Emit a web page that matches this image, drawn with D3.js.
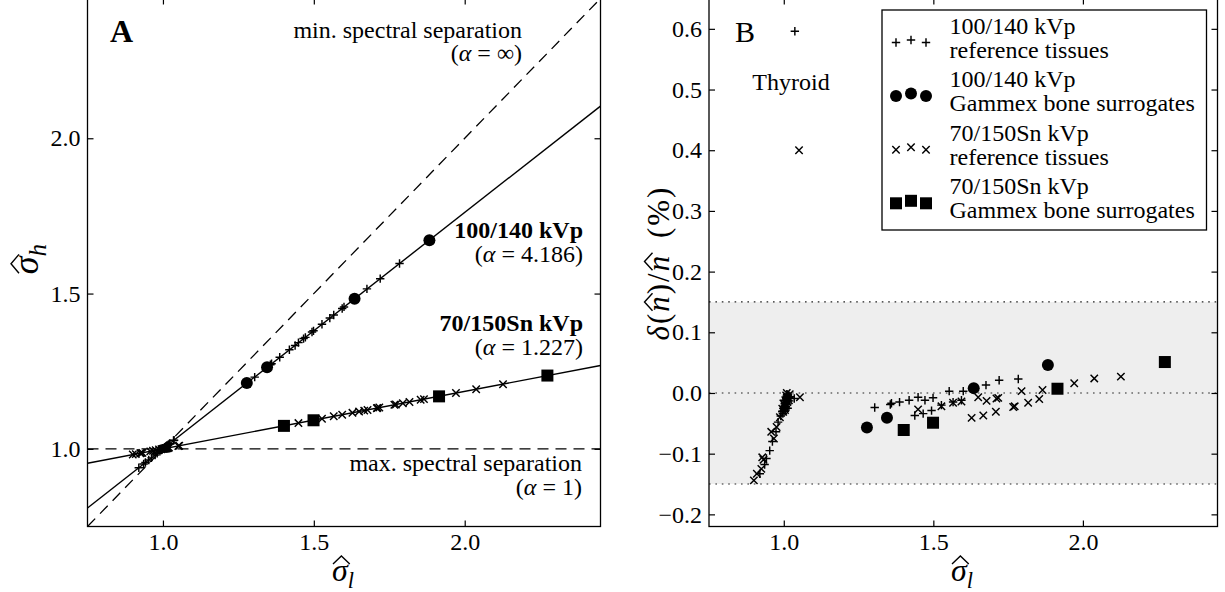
<!DOCTYPE html>
<html>
<head>
<meta charset="utf-8">
<script src="https://cdn.jsdelivr.net/npm/d3@7"></script>
<style>
  body { margin: 0; background: #fff; }
  svg { display: block; font-family: "Liberation Serif", serif; }
</style>
</head>
<body>
<div id="chart"></div>
<script>
// ---- data -------------------------------------------------------------
var xTicks = [1.0, 1.5, 2.0];
var yTicksA = [1.0, 1.5, 2.0];
var yTicksB = [-0.2, -0.1, 0.0, 0.1, 0.2, 0.3, 0.4, 0.5, 0.6];

var protocols = ["100/140 kVp", "70/150Sn kVp"];
var alphas = [4.186, 1.227];
var groupNames = ["reference tissues", "Gammex bone surrogates"];
var toleranceBand = [-0.15, 0.15];

// 100/140 kVp, reference tissues
var tissueSigL100 = [0.920, 0.936, 0.942, 0.953, 0.962, 0.974, 0.981, 0.990, 0.995, 1.000,
    1.003, 1.005, 1.008, 1.010, 1.012, 1.006, 1.015, 1.018, 1.022, 1.035,
    1.037, 1.304, 1.356, 1.360, 1.387, 1.419, 1.449, 1.472, 1.499, 1.438,
    1.466, 1.494, 1.527, 1.553, 1.566, 1.594, 1.600, 1.676, 1.720, 1.784,
    1.000, 1.004, 1.007, 1.011, 0.997, 1.013];
var tissueSigH100 = [0.939, 0.951, 0.956, 0.964, 0.971, 0.980, 0.986, 0.992, 0.996, 1.000,
    1.002, 1.004, 1.006, 1.008, 1.009, 1.005, 1.011, 1.014, 1.017, 1.027,
    1.028, 1.231, 1.271, 1.274, 1.295, 1.319, 1.342, 1.359, 1.380, 1.333,
    1.355, 1.376, 1.401, 1.421, 1.431, 1.452, 1.457, 1.515, 1.548, 1.597,
    1.000, 1.003, 1.005, 1.008, 0.998, 1.010];
var tissueDelta100 = [-0.133, -0.118, -0.108, -0.095, -0.080, -0.064, -0.048, -0.038, -0.030, -0.025,
    -0.020, -0.015, -0.010, -0.005, -0.018, -0.028, -0.008, -0.013, -0.006, -0.009,
    0.596, -0.024, -0.019, -0.017, -0.015, -0.012, -0.007, -0.012, -0.008, -0.037,
    -0.034, -0.029, -0.020, 0.003, -0.015, -0.012, 0.003, 0.013, 0.021, 0.023,
    -0.012, -0.030, -0.022, -0.002, -0.034, -0.025];

// 100/140 kVp, Gammex bone surrogates
var boneSigL100 = [1.278, 1.345, 1.635, 1.883];
var boneSigH100 = [1.212, 1.263, 1.483, 1.672];
var boneDelta100 = [-0.057, -0.041, 0.008, 0.046];

// 70/150Sn kVp, reference tissues
var tissueSigL70 = [0.900, 0.910, 0.925, 0.928, 0.932, 0.958, 0.967, 0.976, 0.987, 0.998,
    1.002, 1.005, 1.008, 1.010, 1.012, 1.015, 1.020, 1.054, 1.051, 1.449,
    1.527, 1.566, 1.594, 1.628, 1.650, 1.667, 1.678, 1.709, 1.711, 1.717,
    1.767, 1.772, 1.795, 1.817, 1.854, 1.865, 1.971, 2.038, 2.127,
    1.000, 1.004, 1.009, 1.013, 0.995, 1.017];
var tissueSigH70 = [0.982, 0.983, 0.986, 0.987, 0.987, 0.992, 0.994, 0.996, 0.998, 1.000,
    1.000, 1.001, 1.001, 1.002, 1.002, 1.003, 1.004, 1.010, 1.009, 1.083,
    1.097, 1.105, 1.110, 1.116, 1.120, 1.123, 1.125, 1.131, 1.132, 1.133,
    1.142, 1.143, 1.147, 1.151, 1.158, 1.160, 1.180, 1.192, 1.208,
    1.000, 1.001, 1.002, 1.002, 0.999, 1.003];
var tissueDelta70 = [-0.144, -0.133, -0.125, -0.106, -0.110, -0.064, -0.075, -0.056, -0.040, -0.031,
    -0.022, -0.012, -0.004, 0.000, -0.015, -0.008, -0.002, -0.007, 0.400, -0.027,
    -0.022, -0.016, -0.014, -0.041, -0.007, -0.037, -0.013, -0.031, -0.009, -0.008,
    -0.023, -0.022, 0.003, -0.016, -0.010, 0.005, 0.016, 0.024, 0.027,
    -0.018, -0.028, -0.020, -0.006, -0.026, -0.012];

// 70/150Sn kVp, Gammex bone surrogates
var boneSigL70 = [1.401, 1.499, 1.915, 2.274];
var boneSigH70 = [1.074, 1.092, 1.169, 1.236];
var boneDelta70 = [-0.061, -0.049, 0.007, 0.051];

// ---- layout -----------------------------------------------------------
var width = 1225, height = 592;
var boxTop = -1.5, boxBottom = 526.5;
var tickLen = 6;
var font = 24;
var serif = '"Liberation Serif", serif';

var svg = d3.select("#chart").append("svg")
    .attr("width", width)
    .attr("height", height);

svg.append("rect").attr("width", width).attr("height", height).attr("fill", "#fff");

var xA = d3.scaleLinear().domain([0.75, 2.45]).range([87.5, 600.5]);
var yA = d3.scaleLinear().domain([0.75, 2.45]).range([boxBottom, boxTop]);
var xB = d3.scaleLinear().domain([0.75, 2.45]).range([709, 1217.5]);
var yB = d3.scaleLinear().domain([-0.22, 0.65]).range([boxBottom, boxTop]);

function zip(a, b) {
    return a.map(function(v, i) { return [v, b[i]]; });
}

var plusPath = function(r) { return "M" + (-r) + ",0H" + r + "M0," + (-r) + "V" + r; };
var crossPath = function(r) { return "M" + (-r) + "," + (-r) + "L" + r + "," + r + "M" + (-r) + "," + r + "L" + r + "," + (-r); };

function drawMarkers(g, pts, x, y, kind) {
    var sel = g.append("g").selectAll("." + kind).data(pts).enter();
    if (kind === "plus" || kind === "cross") {
        sel.append("path")
            .attr("class", kind)
            .attr("transform", function(d) { return "translate(" + x(d[0]) + "," + y(d[1]) + ")"; })
            .attr("d", kind === "plus" ? plusPath(4.2) : crossPath(3.7))
            .attr("stroke", "#000")
            .attr("stroke-width", 1.45)
            .attr("fill", "none");
    } else if (kind === "circle") {
        sel.append("circle")
            .attr("cx", function(d) { return x(d[0]); })
            .attr("cy", function(d) { return y(d[1]); })
            .attr("r", 6)
            .attr("fill", "#000");
    } else {
        sel.append("rect")
            .attr("x", function(d) { return x(d[0]) - 6; })
            .attr("y", function(d) { return y(d[1]) - 6; })
            .attr("width", 12)
            .attr("height", 12)
            .attr("fill", "#000");
    }
}

function drawAxes(g, x, y, yTicks) {
    var fmt = d3.format(".1f");
    var x0 = x.range()[0], x1 = x.range()[1];

    var bottom = g.append("g").attr("transform", "translate(0," + boxBottom + ")")
        .call(d3.axisBottom(x).tickValues(xTicks).tickSize(-tickLen).tickSizeOuter(0).tickPadding(6.5).tickFormat(fmt));
    var left = g.append("g").attr("transform", "translate(" + x0 + ",0)")
        .call(d3.axisLeft(y).tickValues(yTicks).tickSize(-tickLen).tickSizeOuter(0).tickPadding(7).tickFormat(fmt));
    g.append("g").attr("transform", "translate(0," + boxTop + ")")
        .call(d3.axisTop(x).tickValues(xTicks).tickSize(-tickLen).tickSizeOuter(0).tickFormat(""));
    g.append("g").attr("transform", "translate(" + x1 + ",0)")
        .call(d3.axisRight(y).tickValues(yTicks).tickSize(-tickLen).tickSizeOuter(0).tickFormat(""));

    g.selectAll(".domain").remove();
    g.selectAll(".tick line").attr("stroke", "#000").attr("stroke-width", 1.2);
    [bottom, left].forEach(function(a) {
        a.attr("font-family", serif).attr("font-size", font);
        a.selectAll("text").attr("fill", "#000")
            .style("font-family", serif)
            .style("font-size", font + "px");
    });

    g.append("rect")
        .attr("x", x0).attr("y", boxTop)
        .attr("width", x1 - x0).attr("height", boxBottom - boxTop)
        .attr("fill", "none").attr("stroke", "#000").attr("stroke-width", 1.3);
}

function hatPath(x0, x1, top) {
    var mid = (x0 + x1) / 2;
    return "M" + x0 + "," + top + "L" + mid + "," + (top - 8) + "L" + x1 + "," + top;
}

// sigma with a wide hat and a subscript
function hatLabel(parent, tx, ty, rot, sub, size) {
    var g = parent.append("g").attr("transform", "translate(" + tx + "," + ty + ") rotate(" + rot + ")");
    var t = g.append("text")
        .attr("text-anchor", "middle")
        .style("font-size", size + "px")
        .style("font-style", "italic");
    t.append("tspan").text("σ");
    t.append("tspan").attr("dy", size * 0.22).style("font-size", (size * 0.7) + "px").text(sub);
    var ext = t.node().getExtentOfChar(0);
    g.append("path")
        .attr("d", hatPath(ext.x + 1, ext.x + ext.width + 2, -size * 0.5 - 1))
        .attr("fill", "none").attr("stroke", "#000").attr("stroke-width", 1.4);
}

// ---- panel A ----------------------------------------------------------
var gA = svg.append("g");
gA.append("clipPath").attr("id", "clipA").append("rect")
    .attr("x", 87.5).attr("y", boxTop).attr("width", 513).attr("height", boxBottom - boxTop);

var linesA = gA.append("g").attr("clip-path", "url(#clipA)");
var dom = xA.domain();
var dashed = [[[dom[0], dom[0]], [dom[1], dom[1]]], [[dom[0], 1], [dom[1], 1]]];
var line = d3.line().x(function(d) { return xA(d[0]); }).y(function(d) { return yA(d[1]); });

linesA.selectAll(".ref-line").data(dashed).enter().append("path")
    .attr("class", "ref-line")
    .attr("d", line)
    .attr("fill", "none").attr("stroke", "#000").attr("stroke-width", 1.3)
    .attr("stroke-dasharray", "11,7");

linesA.selectAll(".alpha-line").data(alphas).enter().append("path")
    .attr("class", "alpha-line")
    .attr("d", function(a) {
        var s = 1 - 1 / a;
        return line([[dom[0], 1 + s * (dom[0] - 1)], [dom[1], 1 + s * (dom[1] - 1)]]);
    })
    .attr("fill", "none").attr("stroke", "#000").attr("stroke-width", 1.4);

drawMarkers(linesA, zip(tissueSigL100, tissueSigH100), xA, yA, "plus");
drawMarkers(linesA, zip(boneSigL100, boneSigH100), xA, yA, "circle");
drawMarkers(linesA, zip(tissueSigL70, tissueSigH70), xA, yA, "cross");
drawMarkers(linesA, zip(boneSigL70, boneSigH70), xA, yA, "square");

drawAxes(gA, xA, yA, yTicksA);

// two-line annotations, one text element each
var notesA = [
    { x: 522, y: 37.5, dy: 23.5, title: "min. spectral separation", bold: false, alpha: "∞" },
    { x: 583, y: 237.5, dy: 24, title: protocols[0], bold: true, alpha: alphas[0].toFixed(3) },
    { x: 583, y: 330.5, dy: 24, title: protocols[1], bold: true, alpha: alphas[1].toFixed(3) },
    { x: 582, y: 471, dy: 23.5, title: "max. spectral separation", bold: false, alpha: "1" }
];
notesA.forEach(function(n) {
    var t = gA.append("text")
        .attr("x", n.x).attr("y", n.y)
        .attr("text-anchor", "end")
        .style("font-size", font + "px");
    t.append("tspan").style("font-weight", n.bold ? "bold" : "normal").text(n.title);
    t.append("tspan").attr("x", n.x).attr("dy", n.dy).text("(");
    t.append("tspan").style("font-style", "italic").text("α");
    t.append("tspan").text(" = " + n.alpha + ")");
});

gA.append("text").attr("x", 110).attr("y", 42).style("font-size", "32px").style("font-weight", "bold").text("A");

hatLabel(gA, 38, 259, -90, "h", 36);
hatLabel(gA, 343, 581, 0, "l", 32);

// ---- panel B ----------------------------------------------------------
var gB = svg.append("g");
gB.append("clipPath").attr("id", "clipB").append("rect")
    .attr("x", 709).attr("y", boxTop).attr("width", 508.5).attr("height", boxBottom - boxTop);
var plotB = gB.append("g").attr("clip-path", "url(#clipB)");

plotB.append("rect")
    .attr("x", 709).attr("width", 508.5)
    .attr("y", yB(toleranceBand[1]))
    .attr("height", yB(toleranceBand[0]) - yB(toleranceBand[1]))
    .attr("fill", "#eeeeee");

plotB.selectAll(".dot-line").data([toleranceBand[0], 0, toleranceBand[1]]).enter().append("line")
    .attr("class", "dot-line")
    .attr("x1", 709).attr("x2", 1217.5)
    .attr("y1", function(d) { return yB(d); }).attr("y2", function(d) { return yB(d); })
    .attr("stroke", "#222").attr("stroke-width", 1.2)
    .attr("stroke-dasharray", "1.6,4.8");

drawMarkers(plotB, zip(tissueSigL100, tissueDelta100), xB, yB, "plus");
drawMarkers(plotB, zip(boneSigL100, boneDelta100), xB, yB, "circle");
drawMarkers(plotB, zip(tissueSigL70, tissueDelta70), xB, yB, "cross");
drawMarkers(plotB, zip(boneSigL70, boneDelta70), xB, yB, "square");

drawAxes(gB, xB, yB, yTicksB);

gB.append("text").attr("x", 735).attr("y", 42).style("font-size", "30px").text("B");
gB.append("text").attr("x", 791).attr("y", 90).attr("text-anchor", "middle")
    .style("font-size", font + "px").text("Thyroid");

hatLabel(gB, 962, 581, 0, "l", 32);

// y label of panel B: δ(n̂)/n̂ (%), hats drawn over the two n
var ylG = gB.append("g").attr("transform", "translate(669,263) rotate(-90)");
var yl = ylG.append("text")
    .attr("text-anchor", "middle")
    .style("font-size", "31px")
    .style("letter-spacing", "2px");
yl.append("tspan").style("font-style", "italic").text("δ");
yl.append("tspan").text("(");
yl.append("tspan").style("font-style", "italic").text("n");
yl.append("tspan").text(")/");
yl.append("tspan").style("font-style", "italic").text("n");
yl.append("tspan").attr("dx", 6).text(" (%)");
[2, 5].forEach(function(ci) {
    var e = yl.node().getExtentOfChar(ci);
    ylG.append("path")
        .attr("d", hatPath(e.x + 1, e.x + e.width + 1, -31 * 0.5 - 1))
        .attr("fill", "none").attr("stroke", "#000").attr("stroke-width", 1.4);
});

// legend
var legend = gB.append("g");
legend.append("rect")
    .attr("x", 882).attr("y", 10).attr("width", 324.5).attr("height", 220)
    .attr("fill", "#fff").attr("stroke", "#000").attr("stroke-width", 1.3);

var legendItems = [
    { title: protocols[0], sub: groupNames[0], kind: "plus" },
    { title: protocols[0], sub: groupNames[1], kind: "circle" },
    { title: protocols[1], sub: groupNames[0], kind: "cross" },
    { title: protocols[1], sub: groupNames[1], kind: "square" }
];
var legendX = [896, 911, 926];
var legendDy = [0, -2.5, 0];

legendItems.forEach(function(item, i) {
    var base = 33.5 + i * 53.6;
    var t = legend.append("text").attr("x", 949.5).attr("y", base).style("font-size", font + "px");
    t.append("tspan").text(item.title);
    t.append("tspan").attr("x", 949.5).attr("dy", 24).text(item.sub);
    var my = base + 9;
    var pts = legendX.map(function(lx, j) { return [lx, my + legendDy[j]]; });
    drawMarkers(legend, pts, function(v) { return v; }, function(v) { return v; }, item.kind);
});
</script>
</body>
</html>
